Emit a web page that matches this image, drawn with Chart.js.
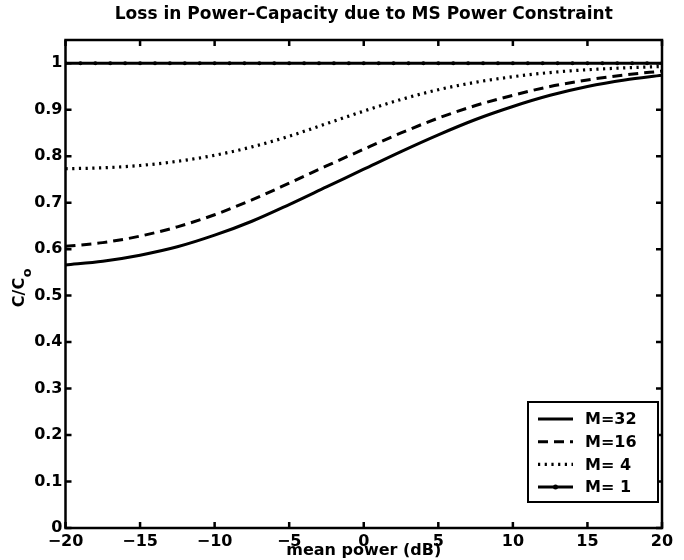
<!DOCTYPE html>
<html><head><meta charset="utf-8">
<script src="https://cdn.jsdelivr.net/npm/chart.js@4.4.1/dist/chart.umd.min.js"></script>
<style>html,body{margin:0;padding:0;background:#fff}canvas{display:block}</style>
</head><body>
<canvas id="c" width="684" height="560"></canvas>
<script>
const titleText = 'Loss in Power\u2013Capacity due to MS Power Constraint';
const xAxisLabel = 'mean power (dB)';
const yAxisLabelMain = 'C/C';
const yAxisLabelSub = 'o';

const meanPowerDb = [-20, -17.5, -15, -12.5, -10, -7.5, -5, -2.5, 0, 2.5, 5, 7.5, 10, 12.5, 15, 17.5, 20];
const capM32 = [0.566, 0.574, 0.587, 0.605, 0.630, 0.660, 0.696, 0.734, 0.772, 0.810, 0.846, 0.879, 0.907, 0.931, 0.950, 0.964, 0.974];
const capM16 = [0.606, 0.614, 0.628, 0.648, 0.674, 0.706, 0.742, 0.779, 0.815, 0.850, 0.882, 0.909, 0.931, 0.950, 0.964, 0.975, 0.983];
const capM4  = [0.773, 0.775, 0.780, 0.789, 0.802, 0.820, 0.843, 0.870, 0.897, 0.922, 0.943, 0.959, 0.971, 0.980, 0.986, 0.990, 0.993];

const meanPowerDbM1 = [-20, -19, -18, -17, -16, -15, -14, -13, -12, -11, -10, -9, -8, -7, -6, -5, -4, -3, -2, -1, 0, 1, 2, 3, 4, 5, 6, 7, 8, 9, 10, 11, 12, 13, 14, 15, 16, 17, 18, 19, 20];
const capM1 = [1, 1, 1, 1, 1, 1, 1, 1, 1, 1, 1, 1, 1, 1, 1, 1, 1, 1, 1, 1, 1, 1, 1, 1, 1, 1, 1, 1, 1, 1, 1, 1, 1, 1, 1, 1, 1, 1, 1, 1, 1];

const seriesLabels = ['M=32', 'M=16', 'M= 4', 'M= 1'];

const xTickValues = [-20, -15, -10, -5, 0, 5, 10, 15, 20];
const xTickLabels = ['\u221220', '\u221215', '\u221210', '\u22125', '0', '5', '10', '15', '20'];
const yTickValues = [0, 0.1, 0.2, 0.3, 0.4, 0.5, 0.6, 0.7, 0.8, 0.9, 1];
const yTickLabels = ['0', '0.1', '0.2', '0.3', '0.4', '0.5', '0.6', '0.7', '0.8', '0.9', '1'];

const FONT = '"DejaVu Sans", "Liberation Sans", Arial, sans-serif';

function pts(xs, ys) { return xs.map((v, i) => ({ x: v, y: ys[i] })); }

const datasets = [
  { label: seriesLabels[0], data: pts(meanPowerDb, capM32), borderColor: '#000', borderWidth: 3, pointRadius: 0, cubicInterpolationMode: 'monotone', borderDash: [] },
  { label: seriesLabels[1], data: pts(meanPowerDb, capM16), borderColor: '#000', borderWidth: 3, pointRadius: 0, cubicInterpolationMode: 'monotone', borderDash: [10, 6] },
  { label: seriesLabels[2], data: pts(meanPowerDb, capM4), borderColor: '#000', borderWidth: 3.2, pointRadius: 0, cubicInterpolationMode: 'monotone', borderDash: [2.2, 4.5] },
  { label: seriesLabels[3], data: pts(meanPowerDbM1, capM1), borderColor: '#000', borderWidth: 3, pointRadius: 2, pointBackgroundColor: '#000', pointBorderWidth: 0, borderDash: [] }
];

const decor = {
  id: 'decor',
  afterDatasetsDraw(chart) {
    const { ctx, chartArea: a, scales: { x, y } } = chart;
    ctx.save();
    ctx.strokeStyle = '#000';
    ctx.lineWidth = 2.5;
    ctx.strokeRect(a.left, a.top, a.right - a.left, a.bottom - a.top);
    const tl = 6;
    ctx.beginPath();
    xTickValues.forEach(v => {
      const px = x.getPixelForValue(v);
      ctx.moveTo(px, a.bottom); ctx.lineTo(px, a.bottom - tl);
      ctx.moveTo(px, a.top); ctx.lineTo(px, a.top + tl);
    });
    yTickValues.forEach(v => {
      const py = y.getPixelForValue(v);
      ctx.moveTo(a.left, py); ctx.lineTo(a.left + tl, py);
      ctx.moveTo(a.right, py); ctx.lineTo(a.right - tl, py);
    });
    ctx.stroke();

    // legend box
    const bw = 130, bh = 100;
    const bx = a.right - 4 - bw, by = a.bottom - 26 - bh;
    ctx.fillStyle = '#fff';
    ctx.fillRect(bx, by, bw, bh);
    ctx.lineWidth = 2;
    ctx.strokeRect(bx, by, bw, bh);
    ctx.font = 'bold 16px ' + FONT;
    ctx.textBaseline = 'middle';
    ctx.textAlign = 'left';
    chart.data.datasets.forEach((ds, i) => {
      const ly = by + 17 + i * 22.7;
      ctx.save();
      ctx.strokeStyle = ds.borderColor;
      ctx.lineWidth = ds.borderWidth;
      ctx.setLineDash(ds.borderDash || []);
      ctx.beginPath();
      ctx.moveTo(bx + 10, ly); ctx.lineTo(bx + 45, ly);
      ctx.stroke();
      if (ds.pointRadius > 0) {
        ctx.fillStyle = '#000';
        ctx.beginPath(); ctx.arc(bx + 27.5, ly, ds.pointRadius + 0.5, 0, Math.PI * 2); ctx.fill();
      }
      ctx.restore();
      ctx.fillStyle = '#000';
      ctx.fillText(ds.label, bx + 57, ly + 1);
    });
    ctx.restore();
  },
  afterDraw(chart) {
    const { ctx, chartArea: a } = chart;
    const cx = (a.left + a.right) / 2;
    ctx.save();
    ctx.fillStyle = '#000';
    ctx.textAlign = 'center';
    ctx.textBaseline = 'middle';
    ctx.font = 'bold 17px ' + FONT;
    ctx.fillText(titleText, cx, 15);
    ctx.font = 'bold 16px ' + FONT;
    ctx.fillText(xAxisLabel, cx, 551);
    // y label with subscript
    ctx.translate(20, (a.top + a.bottom) / 2 + 4);
    ctx.rotate(-Math.PI / 2);
    ctx.textAlign = 'left';
    ctx.font = 'bold 16px ' + FONT;
    const w1 = ctx.measureText(yAxisLabelMain).width;
    ctx.font = 'bold 13px ' + FONT;
    const w2 = ctx.measureText(yAxisLabelSub).width;
    const start = -(w1 + w2) / 2;
    ctx.font = 'bold 16px ' + FONT;
    ctx.fillText(yAxisLabelMain, start, 0);
    ctx.font = 'bold 13px ' + FONT;
    ctx.fillText(yAxisLabelSub, start + w1 + 0.5, 8);
    ctx.restore();
  }
};

new Chart(document.getElementById('c'), {
  type: 'line',
  data: { datasets },
  options: {
    responsive: false,
    animation: false,
    devicePixelRatio: 1,
    layout: { padding: { top: 40, right: 22, left: 0, bottom: 0 } },
    plugins: { legend: { display: false }, tooltip: { enabled: false }, title: { display: false } },
    elements: { line: { tension: 0, borderCapStyle: 'butt' } },
    scales: {
      x: {
        type: 'linear', min: -20, max: 20,
        afterBuildTicks: s => { s.ticks = xTickValues.map(v => ({ value: v })); },
        afterFit: s => { s.height = 32; },
        grid: { display: false, drawTicks: false }, border: { display: false },
        ticks: {
          color: '#000', padding: 4, maxRotation: 0, autoSkip: false,
          font: { family: FONT, size: 16, weight: 'bold' },
          callback: v => xTickLabels[xTickValues.indexOf(v)]
        }
      },
      y: {
        type: 'linear', min: 0, max: 1.05,
        afterBuildTicks: s => { s.ticks = yTickValues.map(v => ({ value: v })); },
        afterFit: s => { s.width = 65.5; },
        grid: { display: false, drawTicks: false }, border: { display: false },
        ticks: {
          color: '#000', padding: 3, autoSkip: false,
          font: { family: FONT, size: 16, weight: 'bold' },
          callback: v => { const i = yTickValues.findIndex(t => Math.abs(t - v) < 1e-9); return i >= 0 ? yTickLabels[i] : ''; }
        }
      }
    }
  },
  plugins: [decor]
});
</script>
</body></html>
